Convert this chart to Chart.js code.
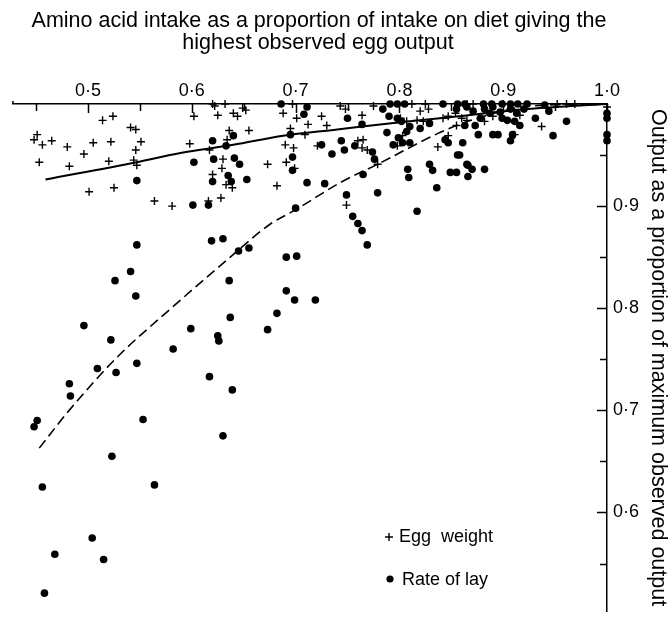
<!DOCTYPE html>
<html>
<head>
<meta charset="utf-8">
<script src="https://cdn.jsdelivr.net/npm/chart.js@4.4.1/dist/chart.umd.min.js"></script>
<style>
  body { margin: 0; background: #fff; }
  #wrap { width: 670px; height: 628px; }
</style>
</head>
<body>
<div id="wrap"><canvas id="eggChart" width="670" height="628"></canvas></div>
<script>
// Datos
const titleLines = ['Amino acid intake as a proportion of intake on diet giving the', 'highest observed egg output'];
const yTitle = 'Output as a proportion of maximum observed output';

const xTicks = [0.45, 0.5, 0.55, 0.6, 0.65, 0.7, 0.75, 0.8, 0.85, 0.9, 0.95, 1.0];
const xLabelled = [0.5, 0.6, 0.7, 0.8, 0.9, 1.0];
const yTicks = [0.55, 0.6, 0.65, 0.7, 0.75, 0.8, 0.85, 0.9, 0.95];
const yLabelled = [0.6, 0.7, 0.8, 0.9];

// + Egg weight
const eggWeight = [
  [0.524,0.988],[0.514,0.984],[0.541,0.977],[0.546,0.975],[0.451,0.970],[0.448,0.965],[0.456,0.960],
  [0.465,0.964],[0.480,0.958],[0.505,0.962],[0.522,0.963],[0.551,0.963],[0.496,0.951],[0.546,0.955],
  [0.453,0.943],[0.482,0.939],[0.520,0.944],[0.544,0.945],[0.547,0.940],[0.501,0.914],[0.525,0.918],
  [0.564,0.905],[0.581,0.900],
  [0.602,0.988],[0.620,1.0],[0.622,0.998],[0.625,0.989],[0.632,1.0],[0.640,0.991],[0.644,0.988],
  [0.649,0.996],[0.652,0.994],[0.688,0.991],[0.697,1.0],[0.701,0.986],[0.712,0.980],[0.725,0.988],
  [0.730,0.979],[0.636,0.974],[0.655,0.974],[0.634,0.965],[0.598,0.961],[0.617,0.955],[0.695,0.976],
  [0.709,0.970],[0.690,0.960],[0.698,0.957],[0.721,0.959],[0.630,0.946],[0.629,0.937],[0.620,0.931],
  [0.633,0.921],[0.639,0.918],[0.673,0.941],[0.691,0.943],[0.699,0.937],[0.682,0.920],[0.628,0.908],
  [0.616,0.905],
  [0.743,0.998],[0.748,0.995],[0.775,0.998],[0.812,1.0],[0.825,1.0],[0.764,0.989],[0.820,0.993],
  [0.828,0.995],[0.801,0.986],[0.807,0.983],[0.817,0.984],[0.823,0.983],[0.842,0.986],[0.847,0.988],
  [0.854,0.991],[0.855,0.979],[0.760,0.964],[0.765,0.965],[0.764,0.957],[0.769,0.955],[0.779,0.941],
  [0.798,0.959],[0.803,0.969],[0.837,0.958],[0.847,0.969],[0.749,0.901],
  [0.865,1.0],[0.871,1.0],[0.900,1.0],[0.952,1.0],[0.961,1.0],[0.969,1.0],[1.0,0.997],[0.882,0.983],
  [0.865,0.984],[0.890,0.988],[0.916,0.989],[0.937,0.978],[0.911,0.970],[0.860,0.986]
];

// • Rate of lay
const rateOfLay = [
  [0.547,0.925],[0.547,0.862],[0.619,0.866],[0.630,0.868],[0.645,0.856],[0.655,0.859],[0.691,0.850],
  [0.701,0.851],[0.541,0.836],[0.526,0.827],[0.546,0.812],[0.636,0.827],[0.691,0.817],[0.699,0.808],
  [0.719,0.808],[0.496,0.783],[0.682,0.795],[0.637,0.791],[0.599,0.780],[0.673,0.779],[0.522,0.769],
  [0.625,0.773],[0.626,0.768],[0.582,0.760],[0.509,0.741],[0.527,0.737],[0.547,0.746],[0.617,0.733],
  [0.639,0.720],[0.482,0.726],[0.483,0.714],[0.451,0.690],[0.448,0.684],[0.553,0.691],[0.630,0.675],
  [0.523,0.655],[0.456,0.625],[0.564,0.627],[0.504,0.575],[0.468,0.559],[0.515,0.554],[0.458,0.521],
  [0.686,1.0],[0.711,0.997],[0.708,0.990],[0.620,0.964],[0.633,0.959],[0.640,0.969],[0.695,0.970],
  [0.725,0.960],[0.735,0.951],[0.602,0.943],[0.621,0.946],[0.641,0.947],[0.646,0.941],[0.697,0.948],
  [0.697,0.935],[0.635,0.930],[0.620,0.924],[0.638,0.924],[0.653,0.926],[0.711,0.923],[0.728,0.922],
  [0.601,0.901],[0.616,0.901],[0.700,0.898],
  [0.791,1.0],[0.798,1.0],[0.805,1.0],[0.842,1.0],[0.856,1.0],[0.784,0.995],[0.790,0.988],[0.798,0.986],
  [0.750,0.986],[0.764,0.980],[0.802,0.983],[0.810,0.978],[0.788,0.972],[0.807,0.973],[0.820,0.976],
  [0.829,0.981],[0.855,0.995],[0.865,0.997],[0.744,0.964],[0.757,0.959],[0.747,0.955],[0.774,0.953],
  [0.776,0.946],[0.794,0.960],[0.803,0.962],[0.810,0.962],[0.799,0.967],[0.844,0.965],[0.847,0.962],
  [0.856,0.950],[0.765,0.931],[0.808,0.936],[0.809,0.928],[0.829,0.941],[0.832,0.935],[0.849,0.933],
  [0.855,0.933],[0.866,0.940],[0.836,0.918],[0.749,0.911],[0.779,0.913],[0.755,0.890],[0.760,0.883],
  [0.764,0.876],[0.769,0.862],[0.817,0.895],
  [0.863,1.0],[0.881,1.0],[0.889,1.0],[0.899,1.0],[0.907,1.0],[0.914,1.0],[0.923,1.0],[0.940,0.999],
  [0.871,0.993],[0.890,0.997],[0.897,0.992],[0.907,0.995],[0.913,0.991],[0.899,0.986],[0.904,0.984],
  [0.911,0.983],[0.916,0.979],[0.944,0.993],[0.931,0.986],[0.961,0.983],[0.873,0.979],[0.863,0.979],
  [0.876,0.970],[0.890,0.970],[0.895,0.970],[0.909,0.970],[0.907,0.964],[0.948,0.969],[0.861,0.962],
  [0.858,0.950],[0.865,0.941],[0.870,0.936],[0.866,0.929],[0.882,0.936],[0.887,0.991],[0.882,0.995],
  [0.920,0.995],[0.878,0.986],
  [1.0,0.991],[1.0,0.986],[1.0,0.970],[1.0,0.964]
];

// curvas ajustadas
const eggWeightFit = [
  [0.459,0.926],[0.547,0.943],[0.589,0.952],[0.640,0.960],[0.688,0.969],[0.740,0.975],
  [0.790,0.981],[0.849,0.987],[0.923,0.995],[1.0,1.0]
];
const rateOfLayFit = [
  [0.453,0.663],[0.481,0.699],[0.528,0.752],[0.579,0.799],[0.637,0.850],[0.675,0.882],[0.701,0.897],
  [0.743,0.923],[0.781,0.942],[0.839,0.972],[0.875,0.986],[0.926,0.998],[1.0,1.0]
];

const toXY = arr => arr.map(p => ({ x: p[0], y: p[1] }));
const fmt = v => v.toFixed(1).replace('.', '\u00B7');
const FONT = '"Liberation Sans", Arial, sans-serif';

Chart.defaults.font.family = FONT;
Chart.defaults.color = '#000';

// ticks hacia dentro, título y leyenda dentro del área
const paperBits = {
  id: 'paperBits',
  afterDraw(chart) {
    const { ctx, chartArea, scales: { x, y } } = chart;
    ctx.save();
    ctx.strokeStyle = '#000';
    ctx.lineWidth = 1.5;
    ctx.beginPath();
    xTicks.forEach(v => {
      const px = Math.round(x.getPixelForValue(v)) + 0.5;
      const len = xLabelled.includes(v) ? 9 : 7;
      ctx.moveTo(px, chartArea.top);
      ctx.lineTo(px, chartArea.top + len);
    });
    yTicks.forEach(v => {
      const py = Math.round(y.getPixelForValue(v)) + 0.5;
      const len = yLabelled.includes(v) ? 10 : 7;
      ctx.moveTo(chartArea.right, py);
      ctx.lineTo(chartArea.right - len, py);
    });
    // el eje superior sigue un poco a la izquierda
    ctx.moveTo(chartArea.left, chartArea.top);
    ctx.lineTo(chartArea.left, chartArea.top - 3);
    ctx.stroke();

    // título
    ctx.fillStyle = '#000';
    ctx.textAlign = 'center';
    ctx.textBaseline = 'middle';
    ctx.font = '21.5px ' + FONT;
    ctx.fillText(titleLines[0], 319, 21);
    ctx.fillText(titleLines[1], 318, 43);

    // leyenda
    const lx = 389;
    ctx.font = '18px ' + FONT;
    ctx.textAlign = 'left';
    ctx.lineWidth = 1.4;
    ctx.beginPath();
    ctx.moveTo(lx - 4, 537); ctx.lineTo(lx + 4, 537);
    ctx.moveTo(lx, 533); ctx.lineTo(lx, 541);
    ctx.stroke();
    ctx.fillText('Egg  weight', lx + 10, 537);
    ctx.beginPath();
    ctx.arc(lx + 1, 579, 3.6, 0, Math.PI * 2);
    ctx.fill();
    ctx.fillText('Rate of lay', lx + 13, 580);
    ctx.restore();
  }
};

const ctx = document.getElementById('eggChart').getContext('2d');
new Chart(ctx, {
  type: 'scatter',
  data: {
    datasets: [
      {
        label: 'Egg weight',
        data: toXY(eggWeight),
        pointStyle: 'cross',
        pointRadius: 4,
        borderWidth: 1.4,
        borderColor: '#000',
        clip: false
      },
      {
        label: 'Rate of lay',
        data: toXY(rateOfLay),
        pointStyle: 'circle',
        pointRadius: 3.8,
        borderWidth: 0,
        backgroundColor: '#000',
        borderColor: '#000',
        clip: false
      },
      {
        label: 'Egg weight fit',
        data: toXY(eggWeightFit),
        showLine: true,
        pointRadius: 0,
        borderColor: '#000',
        borderWidth: 2,
        cubicInterpolationMode: 'monotone',
        clip: false
      },
      {
        label: 'Rate of lay fit',
        data: toXY(rateOfLayFit),
        showLine: true,
        pointRadius: 0,
        borderColor: '#000',
        borderWidth: 1.6,
        borderDash: [10, 5],
        cubicInterpolationMode: 'monotone',
        clip: false
      }
    ]
  },
  options: {
    responsive: false,
    animation: false,
    layout: { padding: { left: 13, right: 0, top: 0, bottom: 0 } },
    plugins: {
      legend: { display: false },
      tooltip: { enabled: false }
    },
    scales: {
      x: {
        type: 'linear',
        position: 'top',
        min: 0.4277,
        max: 1.0,
        afterBuildTicks: s => { s.ticks = xTicks.map(v => ({ value: v })); },
        afterFit: s => { s.height = 104; },
        grid: { drawOnChartArea: false, drawTicks: false },
        border: { display: true, color: '#000', width: 1.5 },
        ticks: {
          autoSkip: false,
          maxRotation: 0,
          padding: 2,
          font: { size: 18 },
          callback: v => xLabelled.includes(v) ? fmt(v) : ''
        }
      },
      y: {
        type: 'linear',
        position: 'right',
        min: 0.5033,
        max: 1.0,
        afterBuildTicks: s => { s.ticks = yTicks.map(v => ({ value: v })); },
        afterFit: s => { s.width = 63; },
        grid: { drawOnChartArea: false, drawTicks: false },
        border: { display: true, color: '#000', width: 1.5 },
        ticks: {
          autoSkip: false,
          padding: 6,
          font: { size: 18 },
          callback: v => yLabelled.includes(v) ? fmt(v) : ''
        },
        title: {
          display: true,
          text: yTitle,
          font: { size: 21.5, lineHeight: 1.1 },
          padding: { top: 0, bottom: 0 }
        }
      }
    }
  },
  plugins: [paperBits]
});
</script>
</body>
</html>
